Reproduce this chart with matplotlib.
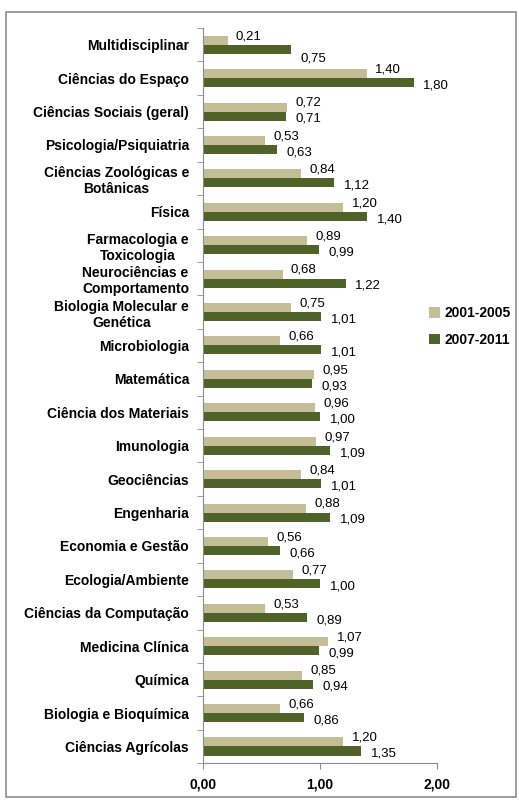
import matplotlib
matplotlib.use('Agg')
import matplotlib.pyplot as plt
import numpy as np
from matplotlib.patches import Rectangle

plt.rcParams['font.family'] = ['Liberation Sans', 'DejaVu Sans']

categories = ['Multidisciplinar', 'Ciências do Espaço', 'Ciências Sociais (geral)',
              'Psicologia/Psiquiatria', 'Ciências Zoológicas e\nBotânicas', 'Física',
              'Farmacologia e\nToxicologia', 'Neurociências e\nComportamento',
              'Biologia Molecular e\nGenética', 'Microbiologia', 'Matemática',
              'Ciência dos Materiais', 'Imunologia', 'Geociências', 'Engenharia',
              'Economia e Gestão', 'Ecologia/Ambiente', 'Ciências da Computação',
              'Medicina Clínica', 'Química', 'Biologia e Bioquímica', 'Ciências Agrícolas']
v2001 = [0.21, 1.40, 0.72, 0.53, 0.84, 1.20, 0.89, 0.68, 0.75, 0.66, 0.95,
         0.96, 0.97, 0.84, 0.88, 0.56, 0.77, 0.53, 1.07, 0.85, 0.66, 1.20]
v2007 = [0.75, 1.80, 0.71, 0.63, 1.12, 1.40, 0.99, 1.22, 1.01, 1.01, 0.93,
         1.00, 1.09, 1.01, 1.09, 0.66, 1.00, 0.89, 0.99, 0.94, 0.86, 1.35]
series_names = ['2001-2005', '2007-2011']
xticks = [0, 1, 2]
xticklabels = ['0,00', '1,00', '2,00']

c_beige = '#C4BD97'
c_green = '#4F6228'

fig = plt.figure(figsize=(5.19, 8.0), dpi=100)
fig.patches.append(Rectangle((0.012, 0.004), 0.982, 0.981, transform=fig.transFigure,
                             fill=False, edgecolor='#8c8c8c', linewidth=1.2))
ax = fig.add_axes([0.391, 0.046, 0.451, 0.919])

y = np.arange(len(categories))
h = 0.27
b1 = ax.barh(y - h / 2, v2001, height=h, color=c_beige, label=series_names[0])
b2 = ax.barh(y + h / 2, v2007, height=h, color=c_green, label=series_names[1])

# data labels: beige a bit above its bar, green a bit below
for yi, v in zip(y, v2001):
    ax.annotate(f'{v:.2f}'.replace('.', ','), (v, yi - h / 2), xytext=(6, 3),
                textcoords='offset points', ha='left', va='center', fontsize=9.5)
for i, (yi, v) in enumerate(zip(y, v2007)):
    dy = -7 if i == 0 else -2
    ax.annotate(f'{v:.2f}'.replace('.', ','), (v, yi + h / 2), xytext=(7, dy),
                textcoords='offset points', ha='left', va='center', fontsize=9.5)

ax.set_ylim(len(categories) - 0.5, -0.5)
ax.set_xlim(0, 2)
ax.set_yticks(y)
ax.set_yticklabels(categories, fontsize=10, fontweight='bold')
for lab in ax.get_yticklabels():
    lab.set_multialignment('center')
ax.tick_params(axis='y', which='major', length=0, pad=10)
ax.set_yticks(np.arange(-0.5, len(categories), 1), minor=True)
ax.tick_params(axis='y', which='minor', length=4, color='#8c8c8c', direction='out')
ax.set_xticks(xticks)
ax.set_xticklabels(xticklabels, fontsize=10, fontweight='bold')
ax.tick_params(axis='x', length=4, color='#8c8c8c', direction='out', pad=6)
for s in ['top', 'right']:
    ax.spines[s].set_visible(False)
for s in ['left', 'bottom']:
    ax.spines[s].set_color('#8c8c8c')

leg = fig.legend(handles=[b1, b2], loc='center left', bbox_to_anchor=(0.802, 0.592),
                 frameon=False, handlelength=0.8, handleheight=0.8, handletextpad=0.3,
                 labelspacing=0.9, prop={'weight': 'bold', 'size': 10})

fig.savefig('out.png', dpi=100)
